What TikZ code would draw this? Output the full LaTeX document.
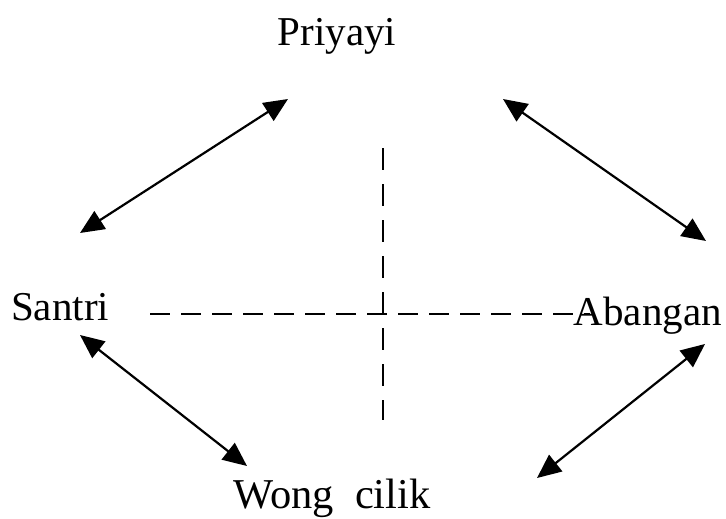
\documentclass[tikz,border=0pt]{standalone}
\usepackage{fontspec}
\setmainfont{Liberation Serif}
\usetikzlibrary{arrows.meta}
\begin{document}
\begin{tikzpicture}[x=1pt,y=-1pt,
  lbl/.style={inner sep=0pt,font=\fontsize{41}{48}\selectfont},
  dbl/.style={line width=2.2pt,{Triangle[length=24pt,width=21pt]}-{Triangle[length=24pt,width=21pt]}},
  axis/.style={line width=1.3pt,dash pattern=on 20pt off 11pt}]
\useasboundingbox (0,0) rectangle (726,519);
\fill[white] (0,0) rectangle (726,519);
\node[lbl,anchor=base] (pri) at (337,46) {Priyayi};
\node[lbl,anchor=base west] (san) at (11,320) {Santri};
\node[lbl,anchor=base east] (aba) at (722,325) {Abangan};
\node[lbl,anchor=base,font=\fontsize{42.5}{48}\selectfont] (won) at (332,508) {Wong\ \ cilik};
% arrow ends
\coordinate (a1) at (80,233); \coordinate (a2) at (288,99);
\coordinate (b1) at (503,99); \coordinate (b2) at (706,241);
\coordinate (c1) at (80,335); \coordinate (c2) at (247,466);
\coordinate (d1) at (537,478); \coordinate (d2) at (705,344);
\draw[dbl] (a1) -- (a2);
\draw[dbl] (b1) -- (b2);
\draw[dbl] (c1) -- (c2);
\draw[dbl] (d1) -- (d2);
% axes
\coordinate (h1) at (150,314); \coordinate (h2) at (590,314);
\coordinate (v1) at (383,148); \coordinate (v2) at (383,420);
\draw[axis] (h1) -- (h2);
\draw[axis,dash pattern=on 22pt off 14pt] (v1) -- (v2);
\end{tikzpicture}
\end{document}
